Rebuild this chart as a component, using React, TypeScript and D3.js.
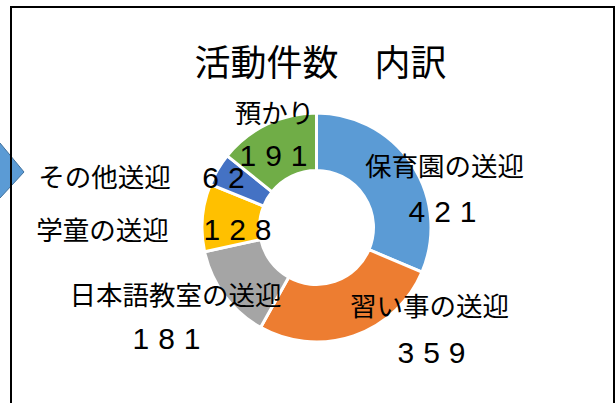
import React from "react";
import * as d3 from "d3";

const categories = ["保育園の送迎", "習い事の送迎", "日本語教室の送迎", "学童の送迎", "その他送迎", "預かり"];
const values = [421, 359, 181, 128, 62, 191];
const colors = ["#5B9BD5", "#ED7D31", "#A5A5A5", "#FFC000", "#4472C4", "#70AD47"];
const title = "活動件数　内訳";

// label layout: offsets from donut centre (name, value)
const nameOffsets: [number, number][] = [
  [128, -63], [113, 77], [-141, 66], [-214, 1], [-212, -52], [-42, -116],
];
const valueOffsets: [number, number][] = [
  [126, -17], [115, 124], [-150, 110], [-79, 1], [-93, -51], [-43, -73],
];

const W = 616, H = 403;
const cx = 316.5, cy = 227.5, rOuter = 114.5, rInner = 57;
const FONT = "'Noto Sans CJK JP', 'Noto Sans', sans-serif";
const NUMFONT = "'Liberation Sans', Arial, sans-serif";
const NUM_SPACING = 9;

export default function App() {
  const pie = d3.pie<number>().sort(null).value((d) => d)(values);
  const arc = d3.arc<d3.PieArcDatum<number>>().innerRadius(rInner).outerRadius(rOuter);
  return (
    <div style={{ position: "absolute", left: 0, top: 0 }}>
      <svg width={W} height={H} style={{ display: "block" }}>
        <rect x={0} y={0} width={W} height={H} fill="#ffffff" />
        <path
          d="M -40 143 L 0 143 L 24 172 L 0 198 L -40 198 Z"
          fill="#5B9BD5"
          stroke="#41719C"
          strokeWidth={1}
        />
        <path d={`M 11 ${H + 5} L 11 7 L 614 7 L 614 ${H + 5}`} fill="none" stroke="#000" strokeWidth={2} />
        <text x={320.5} y={60} textAnchor="middle" dominantBaseline="central" fontFamily={FONT} fontSize={36} fill="#000">
          {title}
        </text>
        <g transform={`translate(${cx},${cy})`}>
          {pie.map((p, i) => (
            <path key={categories[i]} d={arc(p) || ""} fill={colors[i]} stroke="#ffffff" strokeWidth={3} />
          ))}
          {pie.map((p, i) => (
            <g key={"l" + i} fill="#000">
              <text
                x={nameOffsets[i][0]}
                y={nameOffsets[i][1]}
                textAnchor="middle"
                dominantBaseline="central"
                fontFamily={FONT}
                fontSize={26.5}
              >
                {categories[i]}
              </text>
              <text
                x={valueOffsets[i][0] + NUM_SPACING / 2}
                y={valueOffsets[i][1] + 1}
                textAnchor="middle"
                dominantBaseline="central"
                fontFamily={NUMFONT}
                fontSize={30}
                letterSpacing={NUM_SPACING}
              >
                {String(p.value)}
              </text>
            </g>
          ))}
        </g>
      </svg>
    </div>
  );
}
